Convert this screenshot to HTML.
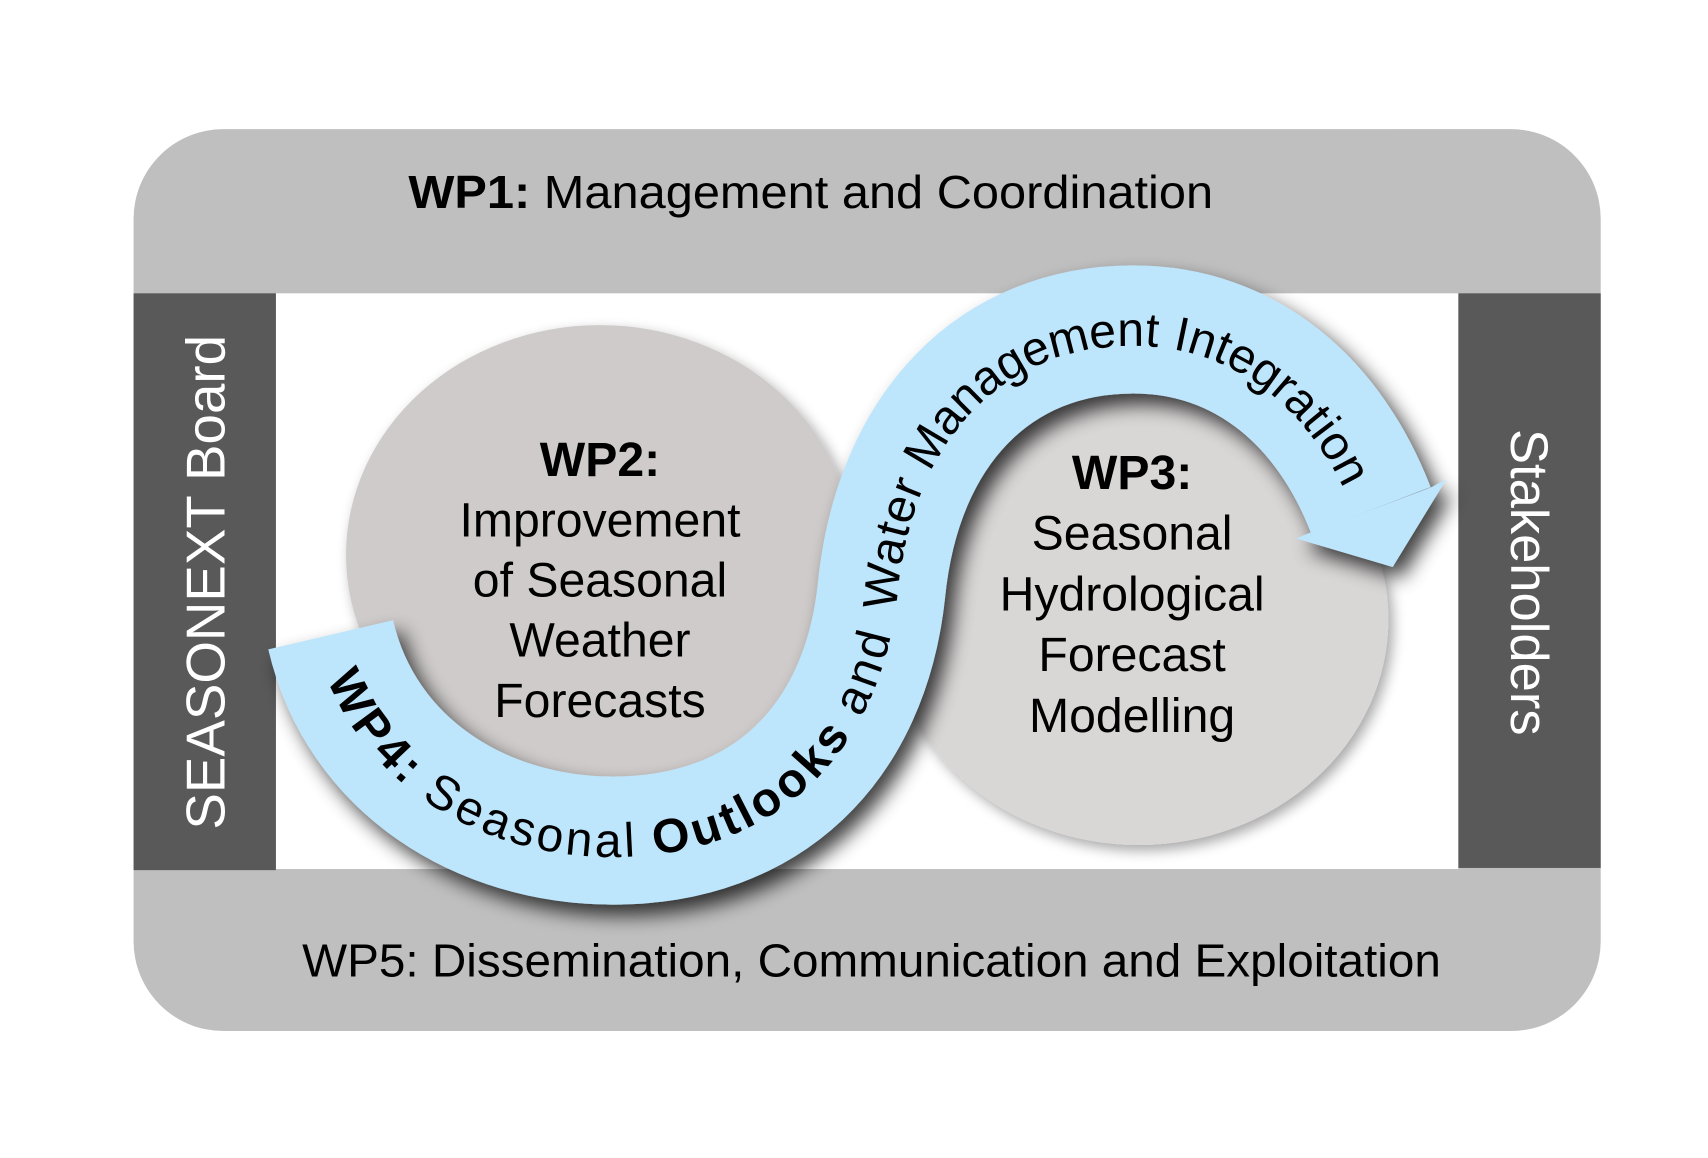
<!DOCTYPE html>
<html><head><meta charset="utf-8"><style>
html,body{margin:0;padding:0;background:#fff;}
svg{display:block;}
text{font-family:"Liberation Sans",Arial,sans-serif;fill:#000;}
</style></head><body>
<svg width="1708" height="1158" viewBox="0 0 1560 1058" preserveAspectRatio="none" xmlns="http://www.w3.org/2000/svg">
<defs>
<filter id="sh" x="-20%" y="-20%" width="140%" height="140%">
<feGaussianBlur in="SourceAlpha" stdDeviation="9"/>
<feOffset dx="8" dy="10" result="b"/>
<feComponentTransfer><feFuncA type="linear" slope="0.75"/></feComponentTransfer>
<feMerge><feMergeNode/><feMergeNode in="SourceGraphic"/></feMerge>
</filter>
<filter id="sh2" x="-20%" y="-20%" width="140%" height="140%">
<feGaussianBlur in="SourceAlpha" stdDeviation="6"/>
<feOffset dx="4" dy="5"/>
<feComponentTransfer><feFuncA type="linear" slope="0.35"/></feComponentTransfer>
<feMerge><feMergeNode/><feMergeNode in="SourceGraphic"/></feMerge>
</filter>
<path id="cl" d="M302 580 C 330 700, 440 768, 560 768 C 700 768, 790 680, 805 540 C 820 390, 910 301, 1035 301 C 1140 301, 1215 370, 1252 466"/>
</defs>
<rect x="122" y="118" width="1340" height="824" rx="82" fill="#bfbfbf"/>
<rect x="252" y="268" width="1080" height="526" fill="#fff"/>
<rect x="122" y="268" width="130" height="527" fill="#595959"/>
<rect x="1332" y="268" width="130" height="525" fill="#595959"/>
<text x="373" y="190" font-size="42" textLength="735" lengthAdjust="spacingAndGlyphs"><tspan font-weight="bold">WP1:</tspan>  Management and Coordination</text>
<text x="276" y="892" font-size="42" textLength="1040" lengthAdjust="spacingAndGlyphs">WP5: Dissemination, Communication and Exploitation</text>
<text transform="translate(205,532) rotate(-90)" text-anchor="middle" font-size="50" style="fill:#fff">SEASONEXT Board</text>
<text transform="translate(1380,532) rotate(90)" text-anchor="middle" font-size="48" style="fill:#fff">Stakeholders</text>
<g filter="url(#sh2)">
<ellipse cx="548" cy="507" rx="232" ry="210" fill="#cfcbcb"/>
<ellipse cx="1040" cy="566" rx="228" ry="206" fill="#d9d6d6"/>
</g>
<g font-size="44" text-anchor="middle">
<text x="548" y="435" font-weight="bold">WP2:</text>
<text x="548" y="490">Improvement</text>
<text x="548" y="545">of Seasonal</text>
<text x="548" y="600">Weather</text>
<text x="548" y="655">Forecasts</text>
<text x="1034" y="447" font-weight="bold">WP3:</text>
<text x="1034" y="502">Seasonal</text>
<text x="1034" y="558">Hydrological</text>
<text x="1034" y="613">Forecast</text>
<text x="1034" y="669">Modelling</text>
</g>
<g filter="url(#sh)">
<use href="#cl" fill="none" stroke="#bde5fb" stroke-width="117"/>
<polygon points="1321,438 1272,518 1184,492 1196,487 1308,445" fill="#bde5fb"/>
</g>
<text font-size="44" dy="15" letter-spacing="2"><textPath href="#cl" startOffset="35"><tspan font-weight="bold">WP4:</tspan> Seasonal <tspan font-weight="bold">Outlooks</tspan> and</textPath></text>
<text font-size="44" dy="15" letter-spacing="1.5" text-anchor="end"><textPath href="#cl" startOffset="98%">Water Management Integration</textPath></text>
</svg>
</body></html>
